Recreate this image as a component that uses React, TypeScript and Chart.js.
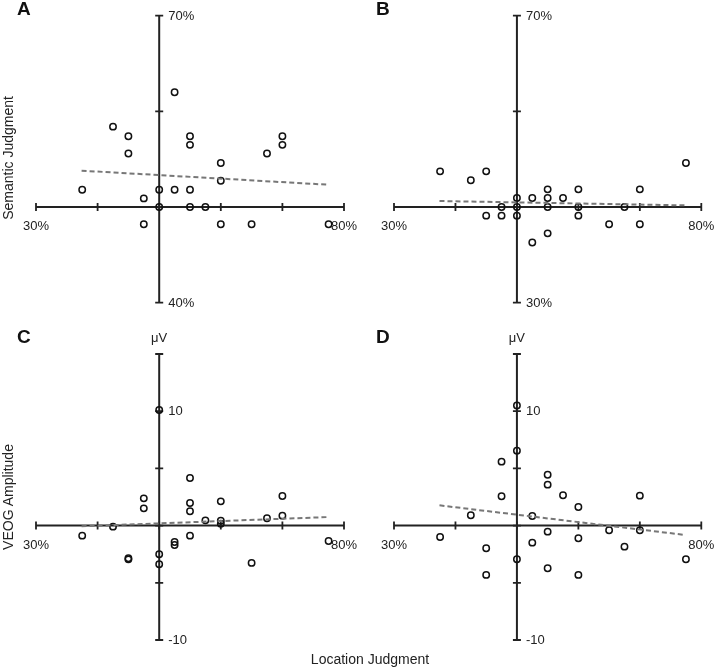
import React, { useEffect, useRef } from "react";
import { Chart, registerables } from "chart.js";

Chart.register(...registerables);

// ---------- data ----------
const xTickValues = [30, 40, 50, 60, 70, 80];
const xTickLabels = ["30%", "", "", "", "", "80%"];

const semYTickValues = [40, 50, 60, 70];
const semYTickLabelsA = ["40%", "", "", "70%"];
const semYTickLabelsB = ["30%", "", "", "70%"];

const veogYTickValues = [-10, -5, 0, 5, 10, 15];
const veogYTickLabels = ["-10", "", "", "", "10", ""];

const panelAX = [37.5, 42.5, 45, 45, 47.5, 47.5, 50, 50, 52.5, 52.5, 55, 55, 55, 55, 57.5, 60, 60, 60, 65, 67.5, 70, 70, 77.5];
const panelAY = [51.8, 58.4, 57.4, 55.6, 50.9, 48.2, 51.8, 50, 62.0, 51.8, 57.4, 56.5, 51.8, 50, 50, 54.6, 52.75, 48.2, 48.2, 55.6, 57.4, 56.5, 48.2];
const trendAX = [37.4, 77.5];
const trendAY = [53.8, 52.33];

const panelBX = [37.5, 42.5, 45, 45, 47.5, 47.5, 50, 50, 50, 52.5, 52.5, 55, 55, 55, 55, 57.5, 60, 60, 60, 65, 67.5, 70, 70, 77.5];
const panelBY = [53.73, 52.8, 53.73, 49.1, 50, 49.1, 50.94, 50, 49.1, 50.94, 46.3, 51.85, 50.94, 50, 47.25, 50.94, 51.85, 50, 49.1, 48.2, 50, 51.85, 48.2, 54.6];
const trendBX = [37.4, 77.6];
const trendBY = [50.63, 50.17];

const panelCX = [37.5, 42.5, 45, 45, 47.5, 47.5, 50, 50, 50, 52.5, 52.5, 55, 55, 55, 55, 57.5, 60, 60, 60, 65, 67.5, 70, 70, 77.5];
const panelCY = [-0.88, -0.09, -2.85, -2.95, 2.38, 1.51, 10.1, -2.5, -3.38, -1.43, -1.69, 4.16, 1.97, 1.25, -0.88, 0.46, 2.12, 0.43, 0.17, -3.26, 0.64, 2.59, 0.87, -1.34];
const trendCX = [37.4, 77.6];
const trendCY = [-0.06, 0.75];

const panelDX = [37.5, 42.5, 45, 45, 47.5, 47.5, 50, 50, 50, 52.5, 52.5, 55, 55, 55, 55, 57.5, 60, 60, 60, 65, 67.5, 70, 70, 77.5];
const panelDY = [-1.0, 0.9, -1.98, -4.31, 5.59, 2.56, 10.5, 6.55, -2.94, 0.84, -1.49, 4.44, 3.58, -0.53, -3.73, 2.65, 1.63, -1.11, -4.31, -0.41, -1.84, 2.62, -0.41, -2.94];
const trendDX = [37.4, 77.4];
const trendDY = [1.77, -0.82];

// ---------- helpers ----------
const FONT = "'Liberation Sans', Arial, Helvetica, sans-serif";
const toPts = (xs: number[], ys: number[]) => xs.map((x, i) => ({ x, y: ys[i] }));

type Panel = {
  letter: string;
  left: number;
  top: number;
  w: number;
  h: number;
  pad: { left: number; right: number; top: number; bottom: number };
  px: number[];
  py: number[];
  tx: number[];
  ty: number[];
  yMin: number;
  yMax: number;
  crossX: number;
  crossY: number;
  yTicks: number[];
  yLabels: string[];
  unit: string | null;
  letterPos: [number, number];
};

const panels: Panel[] = [
  {
    letter: "A", left: 0, top: 0, w: 360, h: 330,
    pad: { left: 36, right: 16, top: 15.7, bottom: 27.3 },
    px: panelAX, py: panelAY, tx: trendAX, ty: trendAY,
    yMin: 40, yMax: 70, crossX: 50, crossY: 50,
    yTicks: semYTickValues, yLabels: semYTickLabelsA, unit: null, letterPos: [17, 15],
  },
  {
    letter: "B", left: 360, top: 0, w: 360, h: 330,
    pad: { left: 34, right: 18.7, top: 15.7, bottom: 27.3 },
    px: panelBX, py: panelBY, tx: trendBX, ty: trendBY,
    yMin: 40, yMax: 70, crossX: 50, crossY: 50,
    yTicks: semYTickValues, yLabels: semYTickLabelsB, unit: null, letterPos: [16, 15],
  },
  {
    letter: "C", left: 0, top: 330, w: 360, h: 337,
    pad: { left: 36, right: 16, top: 24, bottom: 27 },
    px: panelCX, py: panelCY, tx: trendCX, ty: trendCY,
    yMin: -10, yMax: 15, crossX: 50, crossY: 0,
    yTicks: veogYTickValues, yLabels: veogYTickLabels, unit: "μV", letterPos: [17, 13],
  },
  {
    letter: "D", left: 360, top: 330, w: 360, h: 337,
    pad: { left: 34, right: 18.7, top: 24, bottom: 27 },
    px: panelDX, py: panelDY, tx: trendDX, ty: trendDY,
    yMin: -10, yMax: 15, crossX: 50, crossY: 0,
    yTicks: veogYTickValues, yLabels: veogYTickLabels, unit: "μV", letterPos: [16, 13],
  },
];

const crossAxesPlugin = {
  id: "crossAxes",
  beforeDatasetsDraw(chart: any, _args: any, opts: any) {
    const p: Panel = opts.panel;
    if (!p) return;
    const ctx = chart.ctx as CanvasRenderingContext2D;
    const xs = chart.scales.x;
    const ys = chart.scales.y;
    const ax = xs.getPixelForValue(p.crossX);
    const ay = ys.getPixelForValue(p.crossY);
    const x0 = xs.getPixelForValue(xTickValues[0]);
    const x1 = xs.getPixelForValue(xTickValues[xTickValues.length - 1]);
    const y0 = ys.getPixelForValue(p.yTicks[0]);
    const y1 = ys.getPixelForValue(p.yTicks[p.yTicks.length - 1]);
    ctx.save();
    ctx.strokeStyle = "#222";
    ctx.lineWidth = 2;
    ctx.lineCap = "butt";
    ctx.beginPath();
    ctx.moveTo(x0, ay);
    ctx.lineTo(x1, ay);
    ctx.moveTo(ax, y0);
    ctx.lineTo(ax, y1);
    ctx.stroke();
    ctx.lineWidth = 1.8;
    ctx.beginPath();
    xTickValues.forEach((v) => {
      const x = xs.getPixelForValue(v);
      ctx.moveTo(x, ay - 4);
      ctx.lineTo(x, ay + 4);
    });
    p.yTicks.forEach((v) => {
      const y = ys.getPixelForValue(v);
      ctx.moveTo(ax - 4, y);
      ctx.lineTo(ax + 4, y);
    });
    ctx.stroke();
    // labels
    ctx.fillStyle = "#222";
    ctx.font = `13px ${FONT}`;
    ctx.textAlign = "center";
    ctx.textBaseline = "middle";
    xTickValues.forEach((v, i) => {
      const lbl = xTickLabels[i];
      if (lbl) ctx.fillText(lbl, xs.getPixelForValue(v), ay + 19.5);
    });
    ctx.textAlign = "left";
    p.yTicks.forEach((v, i) => {
      const lbl = p.yLabels[i];
      if (lbl) ctx.fillText(lbl, ax + 9, ys.getPixelForValue(v) + 0.5);
    });
    if (p.unit) {
      ctx.textAlign = "center";
      ctx.fillText(p.unit, ax, y1 - 16);
    }
    // panel letter
    ctx.font = `bold 19px ${FONT}`;
    ctx.textAlign = "left";
    ctx.textBaseline = "alphabetic";
    ctx.fillStyle = "#111";
    ctx.fillText(p.letter, p.letterPos[0], p.letterPos[1]);
    ctx.restore();
  },
};

function PanelChart({ p }: { p: Panel }) {
  const ref = useRef<HTMLCanvasElement | null>(null);
  useEffect(() => {
    if (!ref.current) return;
    const chart = new Chart(ref.current, {
      type: "scatter",
      data: {
        datasets: [
          {
            type: "line",
            data: toPts(p.tx, p.ty),
            borderColor: "#777",
            borderWidth: 2,
            borderDash: [5, 3],
            pointRadius: 0,
            fill: false,
            clip: false,
          } as any,
          {
            type: "scatter",
            data: toPts(p.px, p.py),
            pointRadius: 3.2,
            pointBorderWidth: 1.5,
            borderColor: "#111",
            backgroundColor: "rgba(255,255,255,0)",
            pointStyle: "circle",
            clip: false,
          } as any,
        ],
      },
      options: {
        responsive: false,
        animation: false,
        events: [],
        layout: { padding: p.pad },
        scales: {
          x: { type: "linear", min: 30, max: 80, display: false },
          y: { type: "linear", min: p.yMin, max: p.yMax, display: false },
        },
        plugins: {
          legend: { display: false },
          tooltip: { enabled: false },
          crossAxes: { panel: p },
        } as any,
      },
      plugins: [crossAxesPlugin],
    });
    return () => chart.destroy();
  }, [p]);
  return (
    <canvas
      ref={ref}
      width={p.w}
      height={p.h}
      style={{ position: "absolute", left: p.left, top: p.top, width: p.w, height: p.h }}
    />
  );
}

const titleStyle: React.CSSProperties = {
  position: "absolute",
  fontFamily: FONT,
  fontSize: 14,
  color: "#222",
  whiteSpace: "nowrap",
  lineHeight: "16px",
};

export default function App() {
  return (
    <div
      style={{
        position: "fixed",
        left: 0,
        top: 0,
        width: 720,
        height: 667,
        background: "#fff",
        overflow: "hidden",
      }}
    >
      {panels.map((p) => (
        <PanelChart key={p.letter} p={p} />
      ))}
      <div style={{ ...titleStyle, left: 7.5, top: 158, transform: "translate(-50%, -50%) rotate(-90deg)" }}>
        Semantic Judgment
      </div>
      <div style={{ ...titleStyle, left: 7.5, top: 496.5, transform: "translate(-50%, -50%) rotate(-90deg)" }}>
        VEOG Amplitude
      </div>
      <div style={{ ...titleStyle, left: 370, top: 659, transform: "translate(-50%, -50%)" }}>
        Location Judgment
      </div>
    </div>
  );
}
